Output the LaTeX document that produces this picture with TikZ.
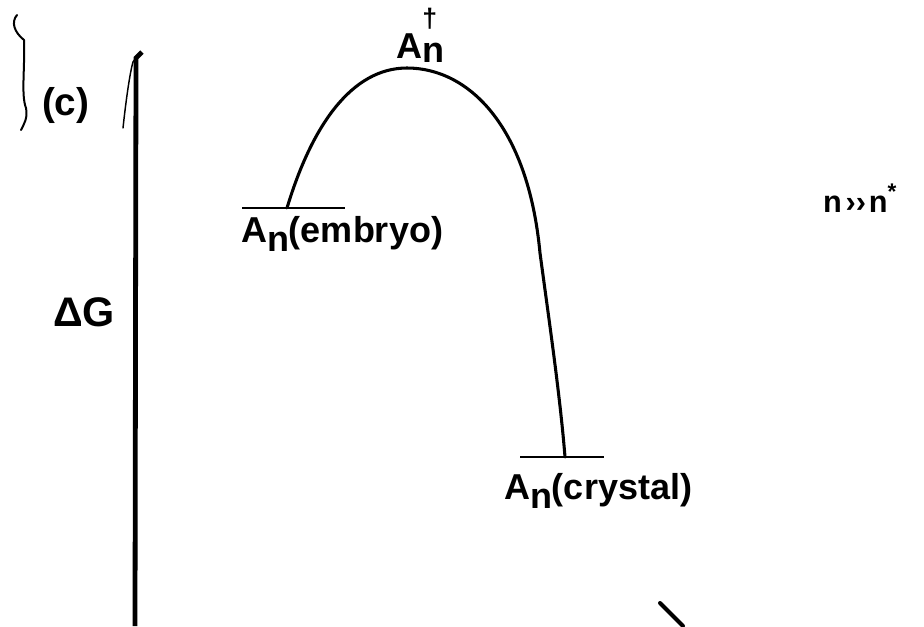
\documentclass[tikz,border=0pt]{standalone}
\usepackage{fontspec}
\setmainfont{Liberation Sans}
\newcommand\lowsub[1]{\raisebox{-7pt}{#1}}

\begin{document}
\begin{tikzpicture}[x=0.75pt, y=-0.75pt,
		every node/.style={inner sep=0pt, outer sep=0pt},
		lettering/.style={font=\fontsize{27}{30}\selectfont\bfseries},
		heavy/.style={font=\fontsize{31}{34}\selectfont\bfseries},
		curve/.style={line width=2.3pt, line cap=round},
		bar/.style={line width=2pt}]
		\useasboundingbox (0,0) rectangle (924,626);
		% energy axis
		\draw[line width=3.6pt] (135,626) -- (136,58) -- (142,52);
		\draw[line width=1.1pt, line cap=round] (123,128) .. controls (126,100) and (130,72) .. (133,62) -- (138,55);
		\draw[line width=1.5pt, line cap=round] (17,15) .. controls (11,22) and (14,32) .. (24,40) .. controls (25,70) and (21,95) .. (26,108) .. controls (28,118) and (24,124) .. (21,130);
		\node[font=\fontsize{29}{32}\selectfont\bfseries, anchor=base west] (panel) at (42,115) {(c)};
		\node[heavy, anchor=base west] (dG) at (53,326) {ΔG};
		% states and barrier
		\coordinate (embryo) at (287,208);
		\coordinate (top) at (407,68);
		\coordinate (turn) at (540,253);
		\coordinate (crystal) at (565,457);
		\draw[curve] (embryo) .. controls (312,125) and (352,68) .. (top)
			.. controls (468,68) and (528,125) .. (turn)
			.. controls (549,320) and (560,395) .. (crystal);
		\draw[bar] (242,208) -- (345,208);
		\draw[bar] (520,457) -- (604,457);
		\node[lettering, anchor=base west] (embryolabel) at (241,242) {A\lowsub{n}(embryo)};
		\node[lettering, anchor=base west] (crystallabel) at (504,499) {A\lowsub{n}(crystal)};
		\node[lettering, anchor=base west] (toplabel) at (396,58) {A\raisebox{-3pt}{n}\makebox[0pt][r]{\raisebox{0.85em}{\fontsize{20}{22}\selectfont †}\hspace{5pt}}};
		\node[font=\fontsize{23}{26}\selectfont\bfseries, anchor=base west] (cond) at (823,212) {n\hspace{3pt}››\hspace{2pt}n\raisebox{0.4em}{\fontsize{17}{19}\selectfont *}};
		\draw[line width=3pt, line cap=round] (660,603) -- (683,626);
	\end{tikzpicture}
\end{document}
